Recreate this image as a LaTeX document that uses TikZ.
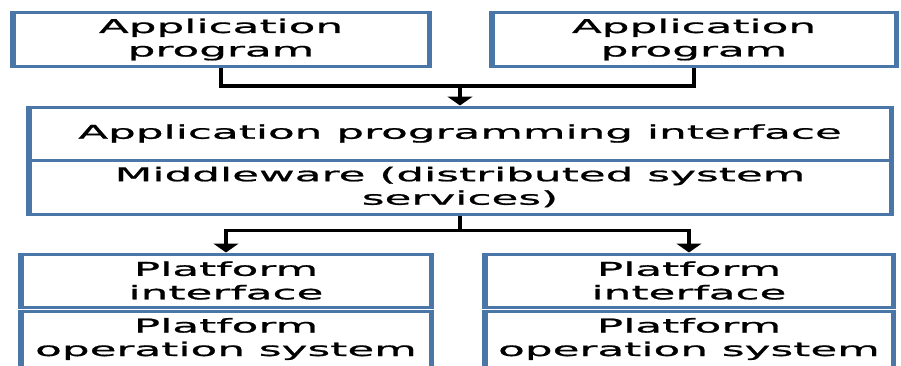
\documentclass[tikz,border=0pt]{standalone}
\usepackage{fontspec}
\usepackage{tikz}
\usetikzlibrary{arrows,arrows.meta,positioning}
\newfontfamily\boxfont[FakeStretch=2.3,FakeBold=1]{DejaVu Sans}
\definecolor{boxblue}{RGB}{74,118,168}

\begin{document}
\begin{tikzpicture}[
  x=1pt, y=1pt,
  every node/.style={align=center, font=\boxfont\fontsize{19}{23.5}\selectfont},
  layer/.style={draw=boxblue, line width=3pt, fill=white, inner sep=0pt,
    append after command={
      (\tikzlastnode.north west) edge[boxblue, line width=5pt] (\tikzlastnode.south west)
      (\tikzlastnode.north east) edge[boxblue, line width=5pt] (\tikzlastnode.south east)}},
  link/.style={line width=3.5pt, black},
  arr/.style={link, -{Triangle[width=25pt,length=9pt]}},
  ]
  \useasboundingbox (0,0) rectangle (901,-365);

  \node[layer, minimum width=414, minimum height=54] (appL) at (221,-39.5) {Application\\program};
  \node[layer, minimum width=402, minimum height=54] (appR) at (694,-39.5) {Application\\program};

  \node[layer, minimum width=860, minimum height=53] (api) at (460,-133.5) {Application programming interface};
  \node[layer, minimum width=860, minimum height=54, below=-3pt of api] (mw) {Middleware (distributed system\\services)};

  \node[layer, minimum width=408, minimum height=53] (pifL) at (226,-280.5) {Platform\\interface};
  \node[layer, minimum width=408, minimum height=56, below=1pt of pifL] (posL) {Platform\\operation system};
  \node[layer, minimum width=406, minimum height=53] (pifR) at (689,-280.5) {Platform\\interface};
  \node[layer, minimum width=406, minimum height=56, below=1pt of pifR] (posR) {Platform\\operation system};

  \coordinate (topjoin) at (460,-86);
  \coordinate (botjoin) at (460,-230.5);

  \draw [link] (appL.south) |- (topjoin) -| (appR.south);
  \draw [arr] (topjoin) -- (api.north);
  \draw [link] (mw.south) -- (botjoin);
  \draw [arr] (botjoin) -| (pifL.north);
  \draw [arr] (botjoin) -| (pifR.north);

\end{tikzpicture}
\end{document}
